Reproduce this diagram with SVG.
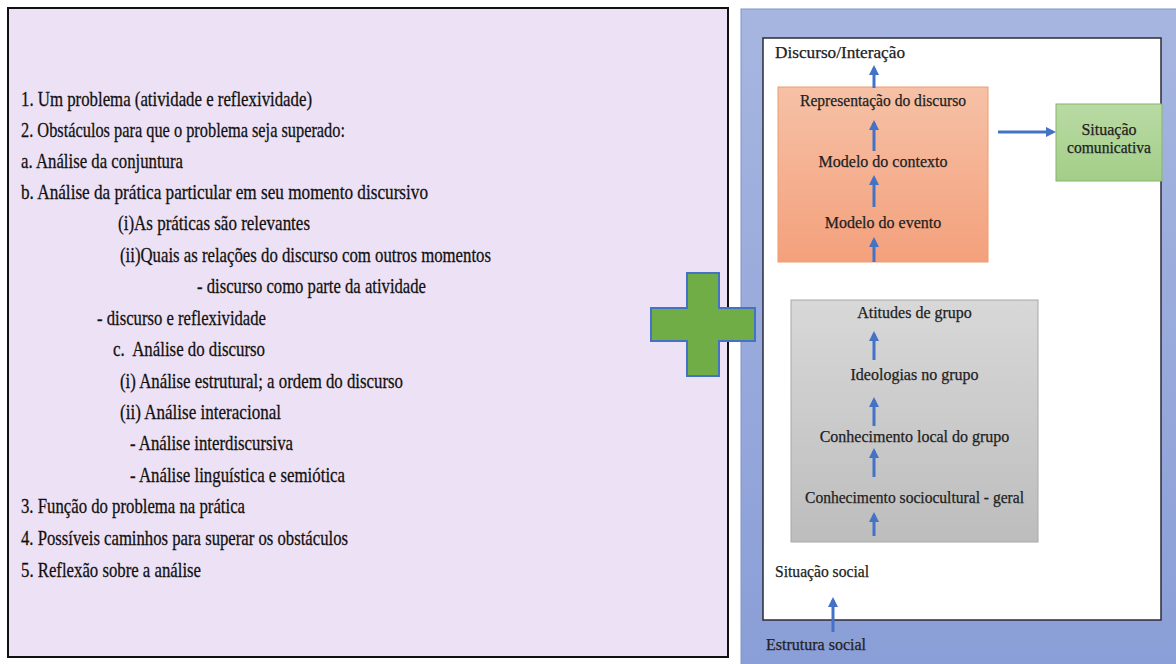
<svg xmlns="http://www.w3.org/2000/svg" width="1176" height="664" viewBox="0 0 1176 664">
<style>
.lt{font-size:22px;fill:#111;stroke:#111;stroke-width:0.3}
.rt{font-size:16px;fill:#222;stroke:#222;stroke-width:0.25}
.mid{text-anchor:middle}
.arr{stroke:#4472C4;stroke-width:3;fill:none;marker-end:url(#ah)}
</style>
<defs>
<marker id="ah" viewBox="0 0 10 10" refX="7" refY="5" markerWidth="3.4" markerHeight="3.4" orient="auto" markerUnits="strokeWidth">
<path d="M0,0 L10,5 L0,10 z" fill="#4472C4"/>
</marker>
<linearGradient id="gBlue" x1="0" y1="0" x2="0" y2="1"><stop offset="0" stop-color="#A7B6E0"/><stop offset="1" stop-color="#8A9ED7"/></linearGradient>
<linearGradient id="gOr" x1="0" y1="0" x2="0" y2="1"><stop offset="0" stop-color="#F6C1A6"/><stop offset="1" stop-color="#F4A07C"/></linearGradient>
<linearGradient id="gGr" x1="0" y1="0" x2="0" y2="1"><stop offset="0" stop-color="#B9DAA4"/><stop offset="1" stop-color="#A3CE88"/></linearGradient>
<linearGradient id="gGy" x1="0" y1="0" x2="0" y2="1"><stop offset="0" stop-color="#D8D8D8"/><stop offset="1" stop-color="#BDBDBD"/></linearGradient>
</defs>
<rect width="1176" height="664" fill="#FFFFFF"/>

<g id="left-panel" font-family="Liberation Serif, Times New Roman, serif">
<rect x="8" y="8" width="720" height="649" fill="#EDE1F5" stroke="#111" stroke-width="2"/>
<text class="lt" x="21" y="106" textLength="291" lengthAdjust="spacingAndGlyphs">1. Um problema (atividade e reflexividade)</text>
<text class="lt" x="21" y="137" textLength="324" lengthAdjust="spacingAndGlyphs">2. Obstáculos para que o problema seja superado:</text>
<text class="lt" x="21" y="168" textLength="162" lengthAdjust="spacingAndGlyphs">a. Análise da conjuntura</text>
<text class="lt" x="21" y="199" textLength="407" lengthAdjust="spacingAndGlyphs">b. Análise da prática particular em seu momento discursivo</text>
<text class="lt" x="118" y="230" textLength="192" lengthAdjust="spacingAndGlyphs">(i)As práticas são relevantes</text>
<text class="lt" x="120" y="262" textLength="371" lengthAdjust="spacingAndGlyphs">(ii)Quais as relações do discurso com outros momentos</text>
<text class="lt" x="197" y="293" textLength="229" lengthAdjust="spacingAndGlyphs">- discurso como parte da atividade</text>
<text class="lt" x="97" y="325" textLength="169" lengthAdjust="spacingAndGlyphs">- discurso e reflexividade</text>
<text class="lt" x="113" y="356" textLength="152" xml:space="preserve" lengthAdjust="spacingAndGlyphs">c.  Análise do discurso</text>
<text class="lt" x="120" y="388" textLength="283" lengthAdjust="spacingAndGlyphs">(i) Análise estrutural; a ordem do discurso</text>
<text class="lt" x="120" y="419" textLength="161" lengthAdjust="spacingAndGlyphs">(ii) Análise interacional</text>
<text class="lt" x="130" y="450" textLength="163" lengthAdjust="spacingAndGlyphs">- Análise interdiscursiva</text>
<text class="lt" x="130" y="482" textLength="215" lengthAdjust="spacingAndGlyphs">- Análise linguística e semiótica</text>
<text class="lt" x="21" y="513" textLength="224" lengthAdjust="spacingAndGlyphs">3. Função do problema na prática</text>
<text class="lt" x="21" y="545" textLength="327" lengthAdjust="spacingAndGlyphs">4. Possíveis caminhos para superar os obstáculos</text>
<text class="lt" x="21" y="577" textLength="180" lengthAdjust="spacingAndGlyphs">5. Reflexão sobre a análise</text>
</g>

<g id="right-panel" font-family="Liberation Serif, Times New Roman, serif">
<rect x="741" y="9" width="440" height="660" fill="url(#gBlue)" stroke="#7F93C9" stroke-width="1"/>
<rect x="763" y="38" width="398" height="582" fill="#FFFFFF" stroke="#2B2B3A" stroke-width="1.5"/>
<text class="rt" x="775" y="58" textLength="130" lengthAdjust="spacingAndGlyphs">Discurso/Interação</text>
<text class="rt" x="775" y="577" textLength="94" lengthAdjust="spacingAndGlyphs">Situação social</text>
<text class="rt" x="766" y="650" font-size="16.5" fill="#1F2D5C" stroke="#1F2D5C">Estrutura social</text>
</g>

<g id="orange-box" font-family="Liberation Serif, Times New Roman, serif">
<rect x="778" y="87" width="210" height="175" fill="url(#gOr)" stroke="#EE9C6E" stroke-width="1"/>
<text class="rt mid" x="883" y="106" textLength="166" lengthAdjust="spacingAndGlyphs">Representação do discurso</text>
<text class="rt mid" x="883" y="167">Modelo do contexto</text>
<text class="rt mid" x="883" y="228">Modelo do evento</text>
</g>

<g id="green-box" font-family="Liberation Serif, Times New Roman, serif">
<rect x="1056" y="104" width="106" height="77" fill="url(#gGr)" stroke="#86B56A" stroke-width="1"/>
<text class="rt mid" x="1109" y="135">Situação</text>
<text class="rt mid" x="1109" y="153" textLength="84" lengthAdjust="spacingAndGlyphs">comunicativa</text>
</g>

<g id="gray-box" font-family="Liberation Serif, Times New Roman, serif">
<rect x="791" y="300" width="247" height="242" fill="url(#gGy)" stroke="#A8A8A8" stroke-width="1"/>
<text class="rt mid" x="914.5" y="318">Atitudes de grupo</text>
<text class="rt mid" x="914.5" y="380">Ideologias no grupo</text>
<text class="rt mid" x="914.5" y="442">Conhecimento local do grupo</text>
<text class="rt mid" x="914.5" y="503" textLength="219" lengthAdjust="spacingAndGlyphs">Conhecimento sociocultural - geral</text>
</g>

<g id="connectors">
<line class="arr" x1="874" y1="88" x2="874" y2="68"/>
<line class="arr" x1="874" y1="151" x2="874" y2="123"/>
<line class="arr" x1="874" y1="207" x2="874" y2="178"/>
<line class="arr" x1="874" y1="262" x2="874" y2="240"/>
<line class="arr" x1="874" y1="360" x2="874" y2="334"/>
<line class="arr" x1="874" y1="426" x2="874" y2="400"/>
<line class="arr" x1="874" y1="477" x2="874" y2="451"/>
<line class="arr" x1="874" y1="536" x2="874" y2="515"/>
<line class="arr" x1="833" y1="632" x2="833" y2="600"/>
<line class="arr" x1="998" y1="132" x2="1053" y2="132"/>
</g>

<g id="plus">
<polygon points="687,273 719,273 719,308 755,308 755,341 719,341 719,376 687,376 687,341 651,341 651,308 687,308" fill="#70AD47" stroke="#4472C4" stroke-width="2"/>
</g>
</svg>
